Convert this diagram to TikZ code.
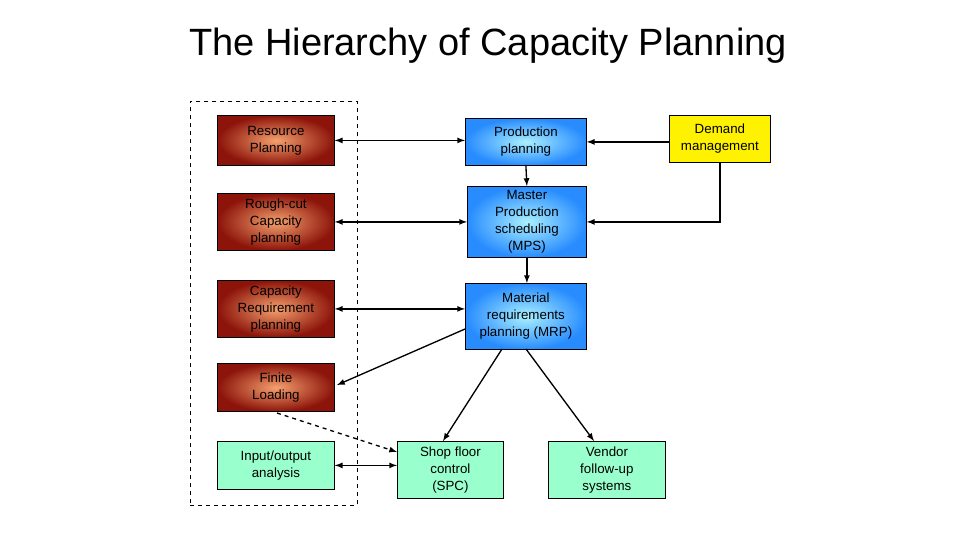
\documentclass[tikz,border=0pt]{standalone}
\usepackage{fontspec}
\setmainfont{Liberation Sans}
\definecolor{mint}{RGB}{153,255,204}
\definecolor{bl}{RGB}{40,140,255}
\definecolor{lc}{RGB}{170,240,255}
\definecolor{dr}{RGB}{140,20,10}
\definecolor{lo}{RGB}{245,160,110}
\begin{document}
\begin{tikzpicture}[x=0.75pt,y=-0.75pt,
  box/.style={draw=black,line width=0.6pt,align=center,font=\fontsize{10}{12.75}\selectfont,inner sep=1pt},
  red/.style={box,inner color=lo,outer color=dr,text=black},
  blue/.style={box,inner color=lc,outer color=bl},
  green/.style={box,fill=mint},
  arr/.style={-latex,line width=1pt},
  darr/.style={latex-latex,line width=1pt}]
\useasboundingbox (0,0) rectangle (960,540);
\node[font=\fontsize{28.5}{32}\selectfont] (title) at (488,46) {The Hierarchy of Capacity Planning};
\node[draw,dashed,minimum width=167*0.75pt,minimum height=404*0.75pt,anchor=north west] (frame) at (190,101) {};
\def\bx#1#2#3#4#5#6#7{\node[#2,minimum width=#5*0.75pt,minimum height=#6*0.75pt,anchor=north west] (#1) at (#3,#4) {#7};}
\bx{rp}{red}{217}{115}{117}{50}{Resource\\Planning}
\bx{rc}{red}{217}{193}{117}{57}{Rough-cut\\Capacity\\planning}
\bx{cr}{red}{217}{280}{117}{57}{Capacity\\Requirement\\planning}
\bx{fl}{red}{217}{363}{117}{48}{Finite\\Loading}
\bx{io}{green}{217}{441}{117}{48}{Input/output\\analysis}
\bx{pp}{blue}{465}{118}{121}{47}{Production\\planning}
\bx{mps}{blue}{467}{186}{119}{71}{Master\\Production\\scheduling\\(MPS)}
\bx{mrp}{blue}{465}{283}{121}{66}{Material\\requirements\\planning (MRP)}
\bx{spc}{green}{397}{441}{106}{57}{Shop floor\\control\\(SPC)}
\bx{vfs}{green}{548}{441}{117}{57}{Vendor\\follow-up\\systems}
\bx{dm}{box,fill=yellow}{669}{115}{101}{47}{Demand\\management}
\draw[darr] (rp.east) -- (rp.east -| pp.west);
\draw[darr] (rc.east) -- (rc.east -| mps.west);
\draw[darr] (cr.east) -- (cr.east -| mrp.west);
\draw[darr] (io.east) -- (io.east -| spc.west);
\draw[arr] (dm.west |- pp.east) -- (pp.east);
\draw[arr] (dm.south) |- (mps.east);
\draw[arr] (pp.south) -- (mps.north);
\draw[arr] (mps.south) -- (mps.south |- mrp.north);
\coordinate (m1) at (465,329);
\coordinate (f1) at (337,385);
\draw[arr] (m1) -- (f1);
\draw[arr] (502,349) -- (443,441);
\draw[arr] (526,349) -- (594,441);
\draw[arr,dashed] (277,413) -- (397,452);
\end{tikzpicture}
\end{document}
